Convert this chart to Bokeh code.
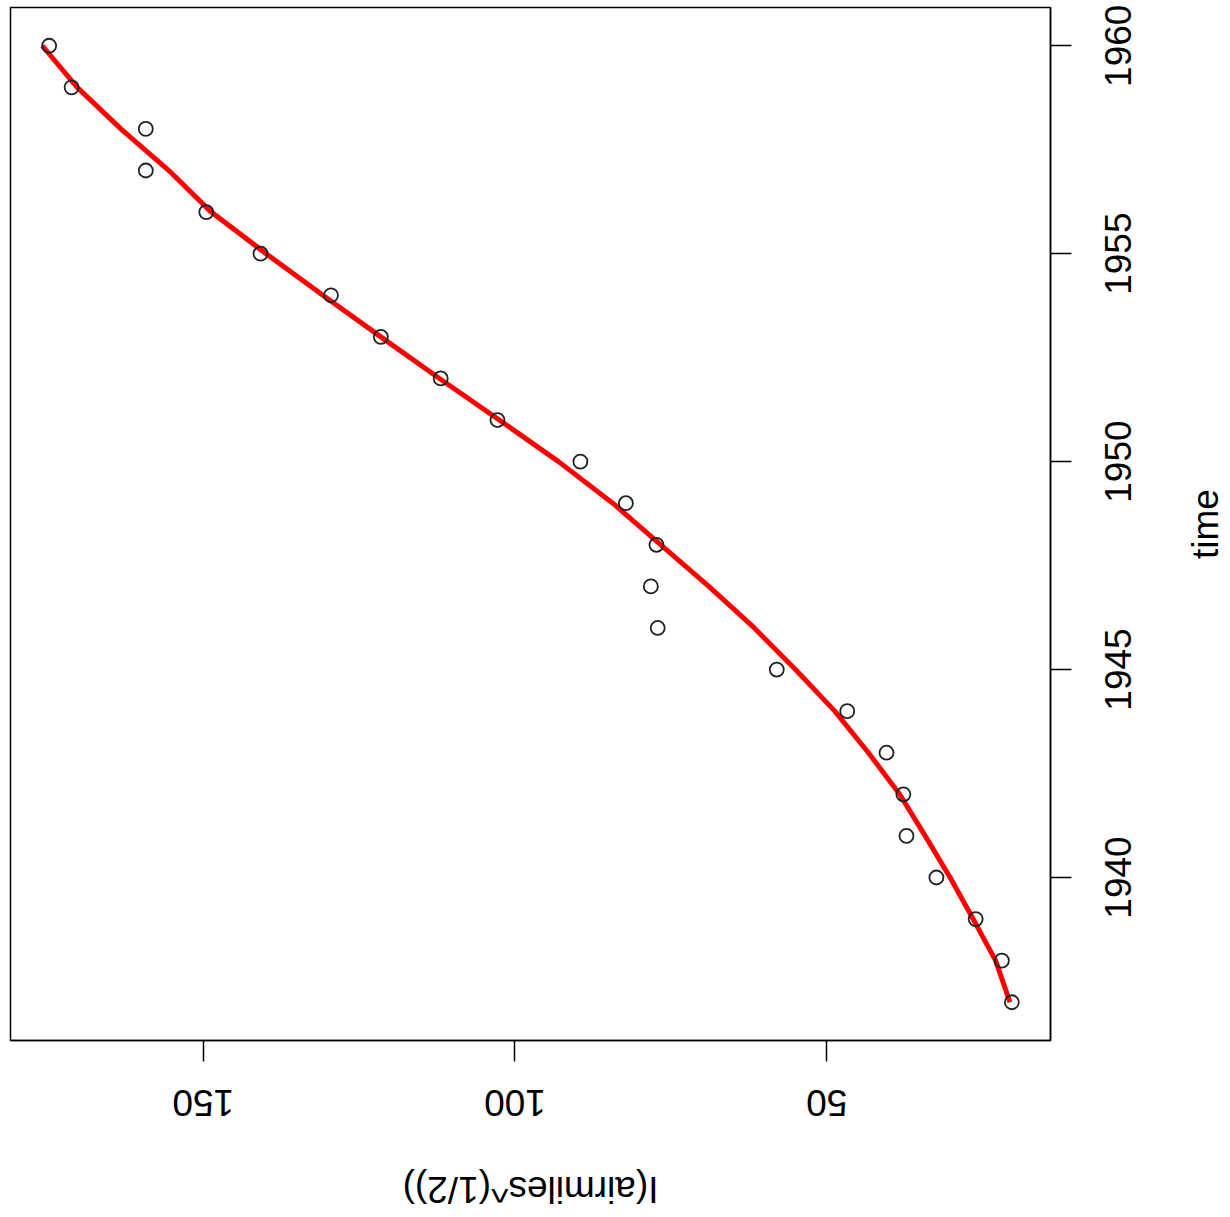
import math
from bokeh.plotting import figure
from bokeh.models import Range1d, FixedTicker, ColumnDataSource, LinearAxis
from bokeh.embed import file_html
from bokeh.resources import INLINE

# Data: yearly revenue passenger miles (sqrt scale) and fitted curve
years = [1937, 1938, 1939, 1940, 1941, 1942, 1943, 1944, 1945, 1946, 1947, 1948,
         1949, 1950, 1951, 1952, 1953, 1954, 1955, 1956, 1957, 1958, 1959, 1960]
sqrt_airmiles = [20.3, 21.9, 26.1, 32.4, 37.2, 37.7, 40.4, 46.7, 58.0, 77.1, 78.2, 77.3,
                 82.2, 89.5, 102.8, 111.9, 121.5, 129.5, 140.8, 149.5, 159.2, 159.2, 171.1, 174.7]
fitted = [20.6, 22.9, 26.5, 30.2, 34.2, 38.3, 43.3, 48.7, 55.0, 61.6, 68.9, 76.6,
          84.3, 93.0, 102.5, 112.1, 121.5, 130.8, 139.9, 148.7, 155.5, 163.2, 170.2, 175.8]
x_ticks = [50, 100, 150]
y_ticks = [1940, 1945, 1950, 1955, 1960]
x_label = "I(airmiles^(1/2))"
y_label = "time"

FONT = "Liberation Sans"
FS_PX = 37
FS = f"{FS_PX}px"
X0, X1 = 180.9, 14.1
Y0, Y1 = 1936.08, 1960.92
FW, FH = 1040, 1033

# Arial / Liberation Sans advance widths (em) used to centre rotated labels
ADV = {"0": .556, "1": .556, "2": .556, "3": .556, "4": .556, "5": .556, "6": .556,
       "7": .556, "8": .556, "9": .556, "I": .278, "(": .333, ")": .333, "a": .556,
       "i": .222, "r": .333, "m": .833, "l": .222, "e": .556, "s": .5, "^": .469,
       "/": .278, "t": .278}


def half_width(txt):
    return sum(ADV.get(c, .556) for c in txt) * FS_PX / 2


px_x = FW / (X0 - X1)
px_y = FH / (Y1 - Y0)

src = ColumnDataSource(data=dict(year=years, val=sqrt_airmiles, fit=fitted))

p = figure(
    frame_width=FW, frame_height=FH,
    x_range=Range1d(X0, X1), y_range=Range1d(Y0, Y1),
    x_axis_location="below", y_axis_location="right",
    output_backend="svg", toolbar_location=None,
    min_border_left=10, min_border_top=7, min_border_right=180, min_border_bottom=177,
    background_fill_color="white", border_fill_color="white",
)
p.xgrid.visible = False
p.ygrid.visible = False
p.outline_line_color = "black"
p.outline_line_width = 1.5

p.line("fit", "year", source=src, line_color="#ff0000", line_width=5)
p.scatter("val", "year", source=src, marker="circle", size=14,
          fill_color=None, line_color="#222222", line_width=1.8)


def style_text(ax):
    ax.major_label_text_font = FONT
    ax.major_label_text_font_size = FS
    ax.major_label_text_color = "black"
    ax.minor_tick_line_color = None


# primary axes: tick marks only
xa = p.xaxis[0]
ya = p.yaxis[0]
for ax, ticks in ((xa, x_ticks), (ya, y_ticks)):
    ax.ticker = FixedTicker(ticks=ticks)
    ax.axis_line_color = "black"
    ax.axis_line_width = 1.5
    ax.major_tick_line_color = "black"
    ax.major_tick_line_width = 1.5
    ax.major_tick_out = 21
    ax.major_tick_in = 0
    ax.minor_tick_line_color = None
    ax.major_label_text_font_size = FS
    ax.major_label_text_color = None
    ax.major_label_standoff = 0

# x tick labels, upside down (rotated labels start at the tick, so shift by half width)
x_pos = [v + half_width(str(v)) / px_x for v in x_ticks]
xl = LinearAxis(ticker=FixedTicker(ticks=x_pos),
                major_label_overrides={pos: str(v) for pos, v in zip(x_pos, x_ticks)},
                major_label_orientation=math.pi, axis_line_color=None,
                major_tick_line_color=None, major_tick_out=0, major_tick_in=0,
                major_label_standoff=41)
style_text(xl)
p.add_layout(xl, "below")

# x title
xt_pos = (X0 + X1) / 2 + half_width(x_label) / px_x
xt = LinearAxis(ticker=FixedTicker(ticks=[xt_pos]), major_label_overrides={xt_pos: x_label},
                major_label_orientation=math.pi, axis_line_color=None,
                major_tick_line_color=None, major_tick_out=0, major_tick_in=0,
                major_label_standoff=58)
style_text(xt)
p.add_layout(xt, "below")

# y tick labels, reading bottom to top
y_pos = [v - half_width(str(v)) / px_y for v in y_ticks]
yl = LinearAxis(ticker=FixedTicker(ticks=y_pos),
                major_label_overrides={pos: str(v) for pos, v in zip(y_pos, y_ticks)},
                major_label_orientation=math.pi / 2, axis_line_color=None,
                major_tick_line_color=None, major_tick_out=0, major_tick_in=0,
                major_label_standoff=47)
style_text(yl)
p.add_layout(yl, "right")

# y title
yt_pos = (Y0 + Y1) / 2 - half_width(y_label) / px_y
yt = LinearAxis(ticker=FixedTicker(ticks=[yt_pos]), major_label_overrides={yt_pos: y_label},
                major_label_orientation=math.pi / 2, axis_line_color=None,
                major_tick_line_color=None, major_tick_out=0, major_tick_in=0,
                major_label_standoff=58)
style_text(yt)
p.add_layout(yt, "right")

open("out.html", "w").write(file_html(p, INLINE))
